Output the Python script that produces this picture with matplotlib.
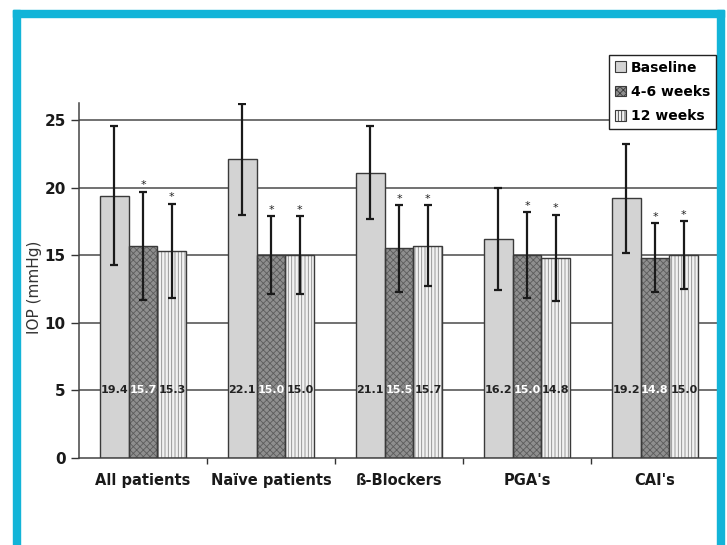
import numpy as np
import matplotlib.pyplot as plt
from matplotlib.patches import Rectangle

# data
groups = ["All patients", "Naïve patients", "ß-Blockers", "PGA's", "CAI's"]
series = ["Baseline", "4-6 weeks", "12 weeks"]
baseline = [19.4, 22.1, 21.1, 16.2, 19.2]
weeks_4_6 = [15.7, 15.0, 15.5, 15.0, 14.8]
weeks_12 = [15.3, 15.0, 15.7, 14.8, 15.0]
sd_baseline = [5.15, 4.1, 3.45, 3.8, 4.05]
sd_4_6 = [4.0, 2.9, 3.2, 3.2, 2.55]
sd_12 = [3.5, 2.9, 3.0, 3.2, 2.5]
significant = [False, True, True]  # asterisk per series

values = [baseline, weeks_4_6, weeks_12]
errors = [sd_baseline, sd_4_6, sd_12]

# styles
face = ["#d3d3d3", "#8e8e8e", "#f2f2f2"]
hatches = [None, "xxxxx", "|||||"]
hatch_col = [None, "#5c5c5c", "#8a8a8a"]
txt_col = ["#222222", "white", "#222222"]

plt.rcParams["hatch.linewidth"] = 0.6

fig = plt.figure(figsize=(7.27, 5.45), dpi=100)
ax = fig.add_axes([79 / 727, 87 / 545, 640 / 727, 355 / 545])

index = np.arange(len(groups))
bw = 0.226

for k in range(3):
    pos = index + (k - 1) * bw
    ax.bar(pos, values[k], bw, color=face[k], hatch=hatches[k],
           edgecolor=hatch_col[k] if hatch_col[k] else face[k],
           linewidth=0, zorder=2)
    ax.bar(pos, values[k], bw, facecolor="none", edgecolor="#3a3a3a",
           linewidth=1.0, zorder=3, label=series[k])
    ax.errorbar(pos, values[k], yerr=errors[k], fmt="none", ecolor="#1a1a1a",
                elinewidth=1.6, capsize=3, capthick=1.6, zorder=4)
    for p, v, e in zip(pos, values[k], errors[k]):
        ax.text(p, 5, "%.1f" % v, ha="center", va="center", fontsize=8,
                fontweight="bold", color=txt_col[k], zorder=5)
        if significant[k]:
            ax.text(p, v + e + 0.1, "*", ha="center", va="bottom",
                    fontsize=8, color="#222222", zorder=5)

# grid
for y in [5, 10, 15, 20, 25]:
    ax.axhline(y, color="#4a4a4a", linewidth=1.1, zorder=1)

ax.set_xlim(-0.5, 4.5)
ax.set_ylim(0, 26.25)
ax.set_yticks([0, 5, 10, 15, 20, 25])
ax.set_xticks(index)
ax.set_xticklabels(groups, fontsize=10.5, fontweight="bold", color="#1a1a1a")
ax.set_xticks(index[:-1] + 0.5, minor=True)
ax.tick_params(axis="x", which="major", length=0, pad=11)
ax.tick_params(axis="x", which="minor", length=4, width=1, color="#333333",
               direction="out")
ax.tick_params(axis="y", length=6, width=1, color="#333333", direction="out",
               labelsize=11)
for lab in ax.get_yticklabels():
    lab.set_fontweight("bold")
    lab.set_color("#1a1a1a")
ax.set_ylabel("IOP (mmHg)", fontsize=11, color="#333333")
ax.yaxis.set_label_coords(-0.058, 0.48)

ax.spines["top"].set_visible(False)
ax.spines["right"].set_visible(False)
ax.spines["left"].set_color("#444444")
ax.spines["bottom"].set_color("#444444")
ax.spines["left"].set_linewidth(1.1)
ax.spines["bottom"].set_linewidth(1.1)

# legend
handles = []
for k in range(3):
    h = Rectangle((0, 0), 1, 1, facecolor=face[k], hatch=hatches[k],
                  edgecolor="#3a3a3a", linewidth=0.8)
    handles.append(h)
leg = fig.legend(handles, series, loc="upper right",
                 bbox_to_anchor=(716 / 727, 1 - 55 / 545),
                 prop={"weight": "bold", "size": 10}, fancybox=False,
                 framealpha=1, edgecolor="#222222", handlelength=0.8,
                 handleheight=0.8, handletextpad=0.4, borderpad=0.4,
                 labelspacing=0.75, borderaxespad=0)
leg.get_frame().set_linewidth(1.0)

# blue frame
blue = "#12b4d8"
fig.patches.append(Rectangle((13 / 727, 0), 7 / 727, 1 - 10 / 545,
                             transform=fig.transFigure, color=blue))
fig.patches.append(Rectangle((13 / 727, 1 - 17 / 545), 711 / 727, 7 / 545,
                             transform=fig.transFigure, color=blue))
fig.patches.append(Rectangle((717 / 727, 0), 7 / 727, 1 - 10 / 545,
                             transform=fig.transFigure, color=blue))

fig.savefig("out.png", dpi=100)
